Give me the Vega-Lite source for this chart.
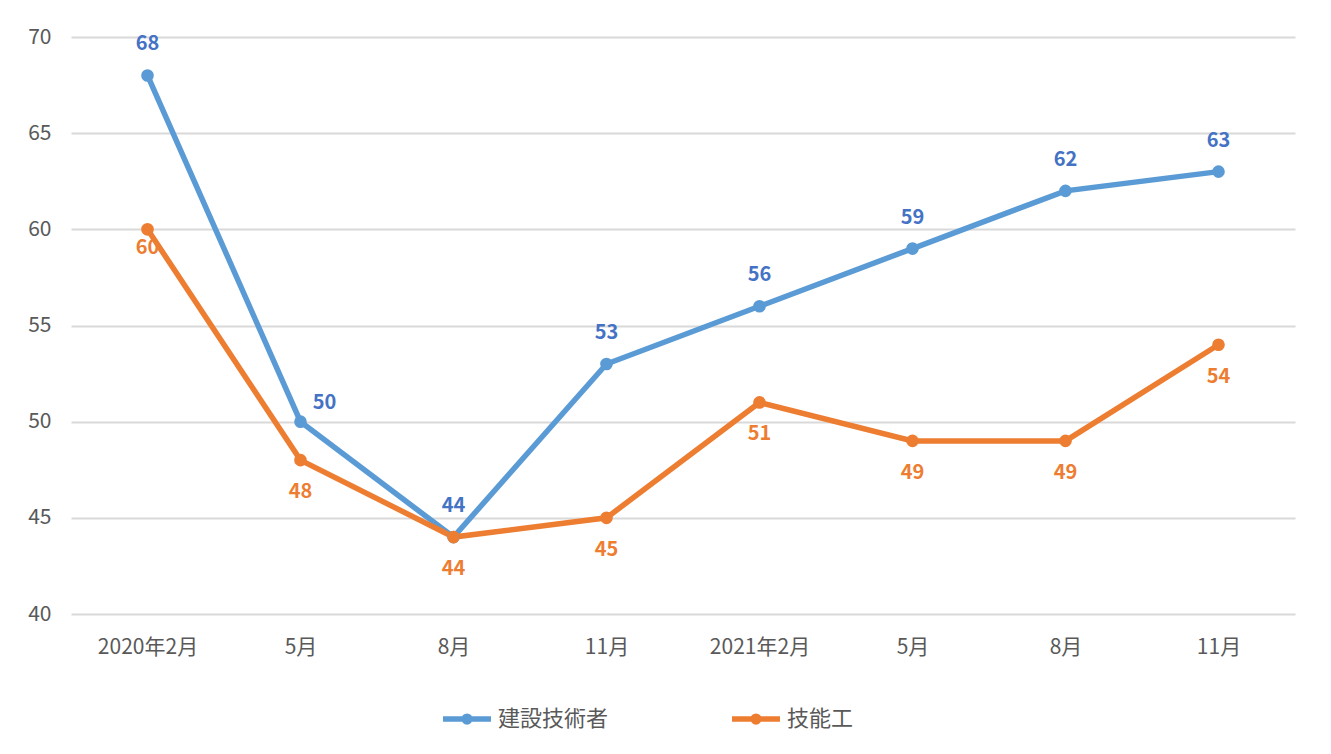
{
  "$schema": "https://vega.github.io/schema/vega-lite/v6.json",
  "width": 1224,
  "height": 577,
  "autosize": "none",
  "padding": {"left": 71, "top": 37, "right": 36, "bottom": 140},
  "background": "white",
  "config": {
    "view": {"stroke": null},
    "font": "Noto Sans CJK JP"
  },
  "data": {
    "values": [
      {"period": "2020年2月", "series": "建設技術者", "value": 68},
      {"period": "2020年2月", "series": "技能工", "value": 60},
      {"period": "2020年5月", "series": "建設技術者", "value": 50},
      {"period": "2020年5月", "series": "技能工", "value": 48},
      {"period": "2020年8月", "series": "建設技術者", "value": 44},
      {"period": "2020年8月", "series": "技能工", "value": 44},
      {"period": "2020年11月", "series": "建設技術者", "value": 53},
      {"period": "2020年11月", "series": "技能工", "value": 45},
      {"period": "2021年2月", "series": "建設技術者", "value": 56},
      {"period": "2021年2月", "series": "技能工", "value": 51},
      {"period": "2021年5月", "series": "建設技術者", "value": 59},
      {"period": "2021年5月", "series": "技能工", "value": 49},
      {"period": "2021年8月", "series": "建設技術者", "value": 62},
      {"period": "2021年8月", "series": "技能工", "value": 49},
      {"period": "2021年11月", "series": "建設技術者", "value": 63},
      {"period": "2021年11月", "series": "技能工", "value": 54}
    ]
  },
  "encoding": {
    "x": {
      "field": "period",
      "type": "ordinal",
      "sort": null,
      "scale": {"type": "point", "padding": 0.5},
      "axis": {
        "title": null,
        "labelAngle": 0,
        "labelExpr": "slice(datum.value,5)=='2月' ? datum.value : slice(datum.value,5)",
        "labelFontSize": 21,
        "labelColor": "#595959",
        "labelPadding": 22,
        "ticks": false,
        "domain": false,
        "grid": false
      }
    },
    "y": {
      "field": "value",
      "type": "quantitative",
      "scale": {"domain": [40, 70], "nice": false, "zero": false},
      "axis": {
        "title": null,
        "values": [40, 45, 50, 55, 60, 65, 70],
        "labelFontSize": 21,
        "labelColor": "#595959",
        "labelPadding": 20,
        "ticks": false,
        "domain": false,
        "grid": true,
        "gridColor": "#d9d9d9",
        "gridWidth": 2
      }
    }
  },
  "layer": [
    {
      "mark": {"type": "line", "strokeWidth": 5.5, "point": {"filled": true, "size": 160, "opacity": 1}},
      "encoding": {
        "color": {
          "field": "series",
          "type": "nominal",
          "scale": {"domain": ["建設技術者", "技能工"], "range": ["#5B9BD5", "#ED7D31"]},
          "legend": {
            "title": null,
            "orient": "none",
            "direction": "horizontal",
            "legendX": 369,
            "legendY": 655,
            "symbolType": "M-1,0L1,0M-0.12,0A0.12,0.12 0 1,1 0.12,0A0.12,0.12 0 1,1 -0.12,0",
            "symbolSize": 2304,
            "symbolStrokeWidth": 5.5,
            "labelFontSize": 22,
            "labelColor": "#595959",
            "labelOffset": 4,
            "columnPadding": 112
          }
        }
      }
    },
    {
      "transform": [{"filter": "datum.series == '建設技術者' && datum.period != '2020年5月'"}],
      "mark": {"type": "text", "dy": -31, "fontSize": 20, "fontWeight": "bold", "color": "#4472C4"},
      "encoding": {"text": {"field": "value", "type": "quantitative"}}
    },
    {
      "transform": [{"filter": "datum.series == '建設技術者' && datum.period == '2020年5月'"}],
      "mark": {"type": "text", "dx": 24, "dy": -19, "fontSize": 20, "fontWeight": "bold", "color": "#4472C4"},
      "encoding": {"text": {"field": "value", "type": "quantitative"}}
    },
    {
      "transform": [{"filter": "datum.series == '技能工' && datum.period != '2020年2月'"}],
      "mark": {"type": "text", "dy": 32, "fontSize": 20, "fontWeight": "bold", "color": "#ED7D31"},
      "encoding": {"text": {"field": "value", "type": "quantitative"}}
    },
    {
      "transform": [{"filter": "datum.series == '技能工' && datum.period == '2020年2月'"}],
      "mark": {"type": "text", "dy": 19, "fontSize": 20, "fontWeight": "bold", "color": "#ED7D31"},
      "encoding": {"text": {"field": "value", "type": "quantitative"}}
    }
  ]
}
